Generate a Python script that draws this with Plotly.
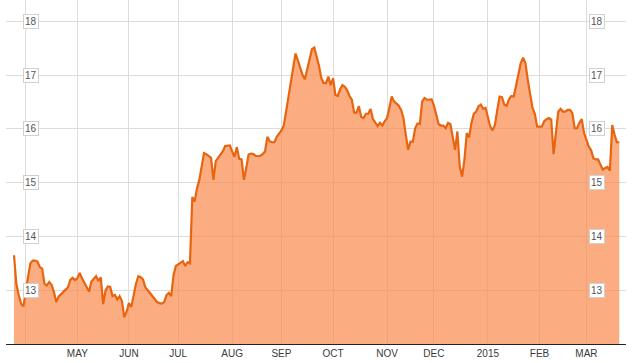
import pandas as pd
import plotly.graph_objects as go

start_date = "2014-03-25"
prices = [
    13.65, 13.12, 12.91, 12.75, 12.70, 13.00, 13.25, 13.50, 13.55, 13.55,
    13.53, 13.43, 13.40, 13.12, 13.09, 13.15, 13.10, 12.97, 12.78, 12.88,
    12.93, 12.96, 13.01, 13.05, 13.19, 13.23, 13.19, 13.22, 13.32, 13.22,
    13.14, 13.07, 12.97, 13.16, 13.22, 13.26, 13.17, 13.24, 12.74, 12.99,
    13.07, 13.06, 12.89, 12.91, 12.83, 12.89, 12.80, 12.50, 12.60, 12.76,
    12.69, 12.94, 13.12, 13.26, 13.24, 13.20, 13.05, 13.00, 12.94, 12.89,
    12.84, 12.78, 12.76, 12.75, 12.78, 12.91, 12.95, 12.89, 13.28, 13.45,
    13.48, 13.51, 13.54, 13.45, 13.52, 13.50, 14.73, 14.65, 14.89, 15.05,
    15.30, 15.55, 15.53, 15.49, 15.46, 15.05, 15.40, 15.46, 15.52, 15.58,
    15.68, 15.69, 15.69, 15.58, 15.48, 15.66, 15.44, 15.43, 15.05, 15.27,
    15.52, 15.54, 15.53, 15.50, 15.49, 15.50, 15.53, 15.58, 15.85, 15.77,
    15.75, 15.75, 15.85, 15.91, 15.97, 16.06, 16.33, 16.58, 16.81, 17.08,
    17.40, 17.27, 17.11, 17.00, 16.92, 17.10, 17.31, 17.48, 17.51, 17.36,
    17.17, 16.94, 16.85, 16.85, 16.97, 16.81, 16.94, 16.63, 16.61, 16.73,
    16.81, 16.78, 16.72, 16.61, 16.54, 16.30, 16.30, 16.42, 16.22, 16.20,
    16.28, 16.28, 16.37, 16.18, 16.12, 16.05, 16.11, 16.06, 16.14, 16.20,
    16.39, 16.60, 16.51, 16.47, 16.43, 16.35, 16.20, 15.89, 15.61, 15.76,
    15.76, 16.01, 16.10, 16.09, 16.51, 16.57, 16.54, 16.54, 16.55, 16.43,
    16.28, 16.09, 16.06, 16.06, 16.01, 16.11, 16.09, 15.86, 15.61, 15.95,
    15.30, 15.11, 15.42, 15.92, 15.84, 16.11, 16.28, 16.32, 16.42, 16.45,
    16.37, 16.39, 16.23, 16.04, 15.97, 16.07, 16.35, 16.60, 16.59, 16.45,
    16.43, 16.55, 16.61, 16.60, 16.80, 17.05, 17.22, 17.32, 17.22, 16.91,
    16.63, 16.39, 16.28, 16.04, 16.04, 16.04, 16.14, 16.18, 16.20, 16.17,
    15.53, 15.90, 16.32, 16.37, 16.32, 16.32, 16.35, 16.35, 16.29, 16.01,
    16.01, 16.11, 16.18, 15.92, 15.81, 15.67, 15.60, 15.45, 15.43, 15.43,
    15.33, 15.24, 15.27, 15.29, 15.22, 16.07, 15.89, 15.75, 15.75,
]
month_starts = ["2014-04-01", "2014-05-01", "2014-06-01", "2014-07-01", "2014-08-01",
                "2014-09-01", "2014-10-01", "2014-11-01", "2014-12-01", "2015-01-01",
                "2015-02-01", "2015-03-01"]
month_labels = ["", "MAY", "JUN", "JUL", "AUG", "SEP", "OCT", "NOV", "DEC", "2015", "FEB", "MAR"]
y_ticks = [13, 14, 15, 16, 17, 18]

dates = pd.bdate_range(start_date, periods=len(prices))
idx = list(range(len(prices)))
tick_idx = [int(dates.searchsorted(pd.Timestamp(m))) for m in month_starts]

fig = go.Figure()
fig.add_trace(go.Scatter(
    x=idx, y=prices, mode="lines",
    line=dict(color="#E8650F", width=2.2),
    fill="tozeroy", fillcolor="rgba(251,140,80,0.72)",
    customdata=dates.strftime("%Y-%m-%d"),
    hovertemplate="%{customdata}: %{y:.2f}<extra></extra>",
))

px_per_day = 2.346
left_px, right_px = 6, 6
fig.update_layout(
    width=632, height=363,
    margin=dict(l=left_px, r=right_px, t=0, b=19),
    paper_bgcolor="white", plot_bgcolor="white",
    showlegend=False,
    font=dict(family="Liberation Sans, Arial, sans-serif"),
    xaxis=dict(
        range=[-8 / px_per_day, (626 - 14) / px_per_day],
        tickvals=tick_idx, ticktext=month_labels,
        showgrid=True, gridcolor="#dcdcdc", gridwidth=1,
        zeroline=False, showline=True, linecolor="#222", linewidth=1.2,
        ticks="", tickfont=dict(size=10, color="#3a3a3a"),
        fixedrange=True,
    ),
    yaxis=dict(
        range=[12, 12 + 344 / 53.8],
        tickvals=y_ticks, showticklabels=False,
        showgrid=True, gridcolor="#dcdcdc", gridwidth=1,
        zeroline=False, showline=False, ticks="",
        fixedrange=True,
    ),
)

plot_w = 632 - left_px - right_px
for t in y_ticks:
    for xp in (31, 597):
        fig.add_annotation(
            x=(xp - left_px) / plot_w, xref="paper", y=t, yref="y",
            text=str(t), showarrow=False, xanchor="center", yanchor="middle",
            font=dict(size=10, color="#555"),
            bgcolor="white", bordercolor="#d0d0d0", borderwidth=1, borderpad=1,
        )

fig.write_html("out.html")
